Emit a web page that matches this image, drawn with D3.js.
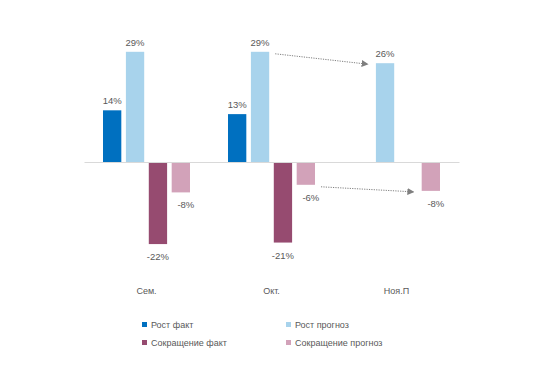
<!DOCTYPE html>
<html><head><meta charset="utf-8">
<script src="https://cdn.jsdelivr.net/npm/d3@7/dist/d3.min.js"></script>
<style>body{margin:0;background:#fff}svg{display:block}text{font-family:"Liberation Sans",Arial,sans-serif}</style>
</head><body><svg id="c" width="552" height="368"></svg>
<script>
const categories = ["Сем.", "Окт.", "Ноя.П"];
const seriesNames = ["Рост факт", "Рост прогноз", "Сокращение факт", "Сокращение прогноз"];
const growthFact = [13.6, 12.6, null];
const growthForecast = [29, 29, 26];
const declineFact = [-21.6, -21.2, null];
const declineForecast = [-8, -6, -7.6];
const colors = ["#0070C0", "#A8D3EC", "#964B70", "#D2A2B9"];
const yDomain = [-30, 30];

const series = [growthFact, growthForecast, declineFact, declineForecast];
const svg = d3.select("#c");
const x0 = d3.scaleBand().domain(categories).range([84, 459]).paddingInner(0).paddingOuter(0);
const x1 = d3.scaleBand().domain(d3.range(4)).range([19, x0.bandwidth() - 19]).paddingInner(0.2).paddingOuter(0);
const y = d3.scaleLinear().domain(yDomain).range([276, 48]);

svg.append("defs").append("marker").attr("id", "ah").attr("viewBox", "0 0 10 10")
  .attr("refX", 9).attr("refY", 5).attr("markerWidth", 7).attr("markerHeight", 7)
  .attr("markerUnits", "userSpaceOnUse").attr("orient", "auto")
  .append("path").attr("d", "M0,0L10,5L0,10Z").attr("fill", "#7f7f7f");

const g = svg.append("g");
series.forEach((vals, si) => {
  categories.forEach((c, ci) => {
    const v = vals[ci];
    if (v == null) return;
    const bx = x0(c) + x1(si);
    g.append("rect").attr("x", bx).attr("width", x1.bandwidth())
      .attr("y", Math.min(y(v), y(0))).attr("height", Math.abs(y(v) - y(0)))
      .attr("fill", colors[si]);
    const dx = si === 3 ? 5 : 0;
    g.append("text").attr("x", bx + x1.bandwidth() / 2 + dx)
      .attr("y", v >= 0 ? y(v) - 6 : y(v) + 16)
      .attr("text-anchor", "middle").attr("font-size", 9.5).attr("fill", "#595959")
      .text(Math.round(v) + "%");
  });
});

const xAxis = d3.axisBottom(x0).tickSize(0).tickFormat(() => "");
svg.append("g").attr("transform", `translate(0,${y(0)})`).call(xAxis)
  .call(s => s.select(".domain").attr("stroke", "#D9D9D9").attr("stroke-width", 1));

svg.append("g").attr("transform", "translate(0,291)")
  .call(d3.axisBottom(x0).tickSize(0))
  .call(s => { s.select(".domain").remove();
    s.selectAll("text").attr("font-size", 9).attr("fill", "#595959").attr("font-family", "Liberation Sans, Arial, sans-serif").attr("dy", 0); });

const arrows = [
  {from: [1, 1], to: [2, 1]},
  {from: [1, 3], to: [2, 3]}
];
arrows.forEach(a => {
  const sx = x0(categories[a.from[0]]) + x1(a.from[1]) + x1.bandwidth() + 6;
  const sy = y(series[a.from[1]][a.from[0]]) + 2;
  const ex = x0(categories[a.to[0]]) + x1(a.to[1]) - 8;
  const ey = y(series[a.to[1]][a.to[0]]) + 1;
  svg.append("line").attr("x1", sx).attr("y1", sy).attr("x2", ex).attr("y2", ey)
    .attr("stroke", "#7f7f7f").attr("stroke-width", 1).attr("stroke-dasharray", "1.2,1.2")
    .attr("marker-end", "url(#ah)");
});

const legPos = [[142, 325], [286, 325], [142, 343], [286, 343]];
seriesNames.forEach((n, i) => {
  const lg = svg.append("g").attr("transform", `translate(${legPos[i][0]},${legPos[i][1]})`);
  lg.append("rect").attr("x", 0).attr("y", -3).attr("width", 5).attr("height", 5).attr("fill", colors[i]);
  lg.append("text").attr("x", 9).attr("y", 3).attr("font-size", 9).attr("fill", "#595959").text(n);
});
</script></body></html>
